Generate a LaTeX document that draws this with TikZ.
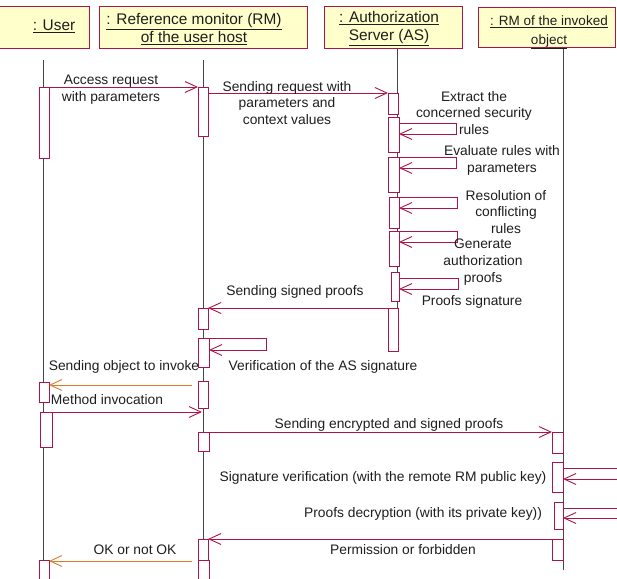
\documentclass[tikz,border=0pt]{standalone}
\usepackage{fontspec}
\setmainfont{Liberation Sans}
\usetikzlibrary{arrows.meta}
\definecolor{umlred}{RGB}{170,20,70}
\definecolor{umlfill}{RGB}{255,255,204}
\definecolor{umlorange}{RGB}{222,122,40}
\definecolor{lifegray}{RGB}{70,70,70}
\definecolor{txt}{RGB}{30,30,30}

% activation bar: name, x1, y1, x2, y2 (top-left / bottom-right)
\newcommand\actbox[5]{\node[act, minimum width={(#4)-(#2)}, minimum height={(#5)-(#3)}] (#1) at (#2,#3) {};}

\begin{document}
\begin{tikzpicture}[x=1pt,y=-1pt,
  header/.style={draw=umlred, fill=umlfill, line width=1.3pt, inner sep=0pt, anchor=north west},
  htext/.style={inner sep=0pt, align=center, text=txt, font=\fontsize{15.4}{18}\selectfont},
  act/.style={draw=umlred, fill=white, line width=1pt, inner sep=0pt, outer sep=0pt, anchor=north west},
  life/.style={draw=lifegray, line width=0.9pt},
  tip/.style={-{Straight Barb[length=12pt,width=11pt,line width=0.9pt]}},
  msg/.style={draw=umlred, line width=0.9pt, tip},
  omsg/.style={draw=umlorange, line width=0.9pt, tip},
  lbl/.style={inner sep=0pt, align=center, text=txt, font=\fontsize{13.8}{16.8}\selectfont}
]
\useasboundingbox (0,0) rectangle (617,578);
\begin{scope}
\clip (0,0) rectangle (617,578);

% object headers
\node[header, minimum width=93, minimum height=42] (hU) at (-4,6) {};
\node[header, minimum width=208, minimum height=42] (hR) at (99,6) {};
\node[header, minimum width=138, minimum height=42] (hA) at (324,6) {};
\node[header, minimum width=137, minimum height=40] (hI) at (478,7) {};
\node[htext] (tU) at (54,26) {\underline{: User}};
\node[htext] (tR) at (194,29) {\underline{: Reference monitor (RM)}\\\underline{of the user host}};
\node[htext] (tA) at (389,29) {\underline{: Authorization}\\\underline{Server (AS)}};
\node[htext, font=\fontsize{13.5}{19}\selectfont] (tI) at (549,32.5) {\underline{: RM of the invoked}\\\underline{object}};

% lifelines
\coordinate (lUt) at (43,60);   \coordinate (lUb) at (43,580);
\coordinate (lRt) at (203,60);  \coordinate (lRb) at (203,580);
\coordinate (lAt) at (397,49);  \coordinate (lAb) at (397,351);
\coordinate (lIt) at (563,49);  \coordinate (lIb) at (563,570);
\draw[life] (lUt) -- (lUb);
\draw[life] (lRt) -- (lRb);
\draw[life] (lAt) -- (lAb);
\draw[life] (lIt) -- (lIb);

% activation bars
\actbox{u1}{39}{87}{49}{158}
\actbox{u2}{39}{382}{49}{402}
\actbox{u3}{40}{412}{52}{447}
\actbox{u4}{39}{560}{49}{585}
\actbox{r1}{198}{87}{208}{136}
\actbox{r2}{198}{308}{208}{329}
\actbox{r3}{198}{338}{209}{367}
\actbox{r4}{198}{381}{208}{408}
\actbox{r5}{198}{432}{209}{451}
\actbox{r6}{198}{539}{208}{560}
\actbox{r7}{198}{560}{209}{585}
\actbox{a1}{388}{93}{398}{114}
\actbox{a2}{388}{117}{399}{152}
\actbox{a3}{388}{157}{399}{192}
\actbox{a4}{389}{197}{399}{228}
\actbox{a5}{389}{231}{399}{266}
\actbox{a6}{391}{272}{399}{301}
\actbox{a7}{388}{308}{398}{351}
\actbox{i1}{552}{432}{563}{453}
\actbox{i2}{552}{462}{563}{492}
\actbox{i3}{554}{502}{563}{529}
\actbox{i4}{552}{539}{563}{560}

% messages between lifelines
\draw[msg] (u1.north east) -- (u1.north east -| r1.west);
\draw[msg] (a1.north west -| r1.east) -- (a1.north west);
\draw[msg] (a7.north west) -- (a7.north west -| r2.east);
\coordinate (o1) at (192,385);
\draw[omsg] (o1) -- (o1 -| u2.east);
\coordinate (mR) at (202,413);
\draw[msg] (u3.north east) -- (u3.north east -| mR);
\draw[msg] (r5.north east) -- (r5.north east -| i1.west);
\draw[msg] (i4.north west) -- (i4.north west -| r6.east);
\coordinate (o2) at (192,561);
\draw[omsg] (o2) -- (o2 -| u4.east);

% self messages
\draw[msg] ([yshift=-6pt]a2.north east) -- ++(57,0) -- ++(0,11) -- ([yshift=-17pt]a2.north east);
\draw[msg] (a3.north east) -- ++(57,0) -- ++(0,11) -- ([yshift=-11pt]a3.north east);
\draw[msg] (a4.north east) -- ++(58,0) -- ++(0,11) -- ([yshift=-11pt]a4.north east);
\draw[msg] (a5.north east) -- ++(58,0) -- ++(0,11) -- ([yshift=-11pt]a5.north east);
\draw[msg] ([yshift=-6pt]a6.north east) -- ++(59,0) -- ++(0,11) -- ([yshift=-17pt]a6.north east);
\draw[msg] (r3.north east) -- ++(57,0) -- ++(0,12) -- ([yshift=-12pt]r3.north east);
\draw[msg] ([yshift=-6pt]i2.north east) -- ++(70,0) -- ++(0,11) -- ([yshift=-17pt]i2.north east);
\draw[msg] ([yshift=-6pt]i3.north east) -- ++(70,0) -- ++(0,10) -- ([yshift=-16pt]i3.north east);
\end{scope}

% message labels
\node[lbl] (t1) at (111,90) {Access request\\with parameters};
\node[lbl] (t2) at (287,103) {Sending request with\\parameters and\\context values};
\node[lbl] (t3) at (474,113) {Extract the\\concerned security\\rules};
\node[lbl] (t4) at (502,160.5) {Evaluate rules with\\parameters};
\node[lbl] (t5) at (506,212) {Resolution of\\conflicting\\rules};
\node[lbl] (t6) at (483,262) {Generate\\authorization\\proofs};
\node[lbl] (t7) at (472,302) {Proofs signature};
\node[lbl] (t8) at (295,292) {Sending signed proofs};
\node[lbl] (t9) at (323,367) {Verification of the AS signature};
\node[lbl] (t10) at (124,367) {Sending object to invoke};
\node[lbl] (t11) at (107,400) {Method invocation};
\node[lbl] (t12) at (389,425) {Sending encrypted and signed proofs};
\node[lbl] (t13) at (383,478) {Signature verification (with the remote RM public key)};
\node[lbl] (t14) at (423,514) {Proofs decryption (with its private key))};
\node[lbl] (t15) at (403,550) {Permission or forbidden};
\node[lbl] (t16) at (135,550) {OK or not OK};
\end{tikzpicture}
\end{document}
